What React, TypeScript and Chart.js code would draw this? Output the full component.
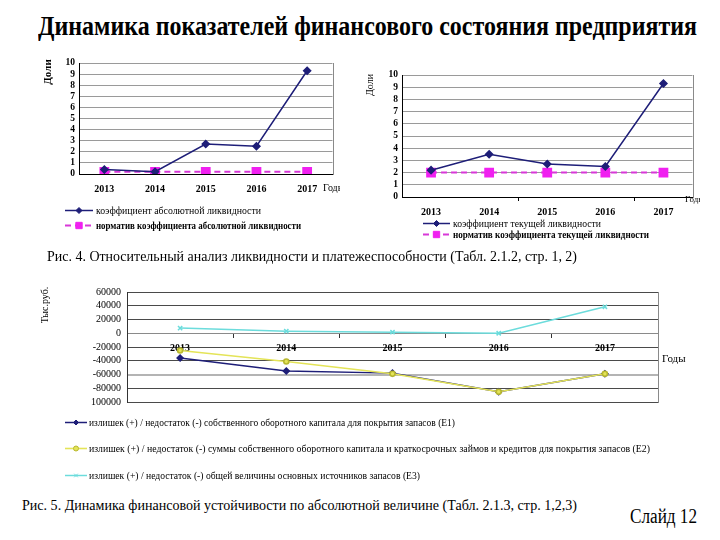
import React, { useEffect, useLayoutEffect, useRef } from "react";
import { Chart, registerables } from "chart.js";

Chart.register(...registerables);

// ---------- data ----------
const years = ["2013", "2014", "2015", "2016", "2017"];

const absLiquidity = [0.4, 0.2, 2.7, 2.5, 9.3];
const absLiquidityNorm = [0.2, 0.2, 0.2, 0.2, 0.2];
const curLiquidity = [2.2, 3.5, 2.7, 2.5, 9.3];
const curLiquidityNorm = [2, 2, 2, 2, 2];

const surplusE1 = [-36000, -55000, -58000, -85000, -59000];
const surplusE2 = [-25000, -41000, -59000, -85000, -59000];
const surplusE3 = [7500, 3000, 1500, 0, 38500];

const ratioTickLabels = ["0", "1", "2", "3", "4", "5", "6", "7", "8", "9", "10"];
const moneyTickLabels = ["100000", "-80000", "-60000", "-40000", "-20000", "0", "20000", "40000", "60000"];

const absLabels = ["коэффициент абсолютной ликвидности", "норматив коэффициента абсолютной ликвидности"];
const curLabels = ["коэффициент текущей ликвидности", "норматив коэффициента текущей ликвидности"];
const surplusLabels = [
  "излишек (+) / недостаток (-) собственного оборотного капитала для покрытия запасов (Е1)",
  "излишек (+) / недостаток (-) суммы собственного оборотного капитала и краткосрочных займов и кредитов для покрытия запасов (Е2)",
  "излишек (+) / недостаток (-) общей величины основных источников запасов (Е3)",
];

// ---------- styles ----------
const SERIF = '"Liberation Serif", "Times New Roman", serif';
const NAVY = "#1e1e78";
const MAGENTA_LINE = "#d838d8";
const MAGENTA = "#f020f0";
const YELLOW = "#e4e458";
const YELLOW_DARK = "#b8b830";
const CYAN = "#6cdcdc";

type LegendCfg = {
  x: number;
  ys: number[];
  len: number;
  gap: number;
  fonts: string[];
  widths: number[];
  markerR: number[];
};
type TextCfg = { text: string; x: number; y: number; font: string; rotate?: boolean; align?: CanvasTextAlign };
type DecorCfg = {
  border?: { right?: boolean; top?: boolean; bottom?: boolean; color: string };
  legend?: LegendCfg;
  texts?: TextCfg[];
};

function drawMarker(
  ctx: CanvasRenderingContext2D,
  style: string,
  x: number,
  y: number,
  r: number,
  fill: string,
  stroke: string
) {
  ctx.save();
  ctx.setLineDash([]);
  ctx.fillStyle = fill;
  ctx.strokeStyle = stroke;
  ctx.lineWidth = 1;
  ctx.beginPath();
  if (style === "rectRot") {
    ctx.moveTo(x, y - r);
    ctx.lineTo(x + r, y);
    ctx.lineTo(x, y + r);
    ctx.lineTo(x - r, y);
    ctx.closePath();
    ctx.fill();
    ctx.stroke();
  } else if (style === "rect") {
    const s = r * Math.SQRT1_2;
    ctx.rect(x - s, y - s, 2 * s, 2 * s);
    ctx.fill();
    ctx.stroke();
  } else if (style === "circle") {
    ctx.arc(x, y, r, 0, Math.PI * 2);
    ctx.fill();
    ctx.stroke();
  } else if (style === "crossRot") {
    const s = r * Math.SQRT1_2;
    ctx.moveTo(x - s, y - s);
    ctx.lineTo(x + s, y + s);
    ctx.moveTo(x - s, y + s);
    ctx.lineTo(x + s, y - s);
    ctx.stroke();
  }
  ctx.restore();
}

function makeDecor(cfg: DecorCfg) {
  return {
    id: "decor",
    afterDraw(chart: any) {
      const ctx: CanvasRenderingContext2D = chart.ctx;
      const ca = chart.chartArea;
      ctx.save();
      if (cfg.border) {
        ctx.strokeStyle = cfg.border.color;
        ctx.lineWidth = 1;
        ctx.beginPath();
        if (cfg.border.right) {
          ctx.moveTo(Math.round(ca.right) + 0.5, Math.round(ca.top));
          ctx.lineTo(Math.round(ca.right) + 0.5, Math.round(ca.bottom) + 1);
        }
        if (cfg.border.top) {
          ctx.moveTo(ca.left, Math.round(ca.top) + 0.5);
          ctx.lineTo(ca.right, Math.round(ca.top) + 0.5);
        }
        if (cfg.border.bottom) {
          ctx.moveTo(ca.left, Math.round(ca.bottom) + 0.5);
          ctx.lineTo(ca.right, Math.round(ca.bottom) + 0.5);
        }
        ctx.stroke();
      }
      if (cfg.legend) {
        const L = cfg.legend;
        chart.data.datasets.forEach((ds: any, i: number) => {
          const y = L.ys[i];
          ctx.save();
          ctx.strokeStyle = ds.borderColor;
          ctx.lineWidth = ds.borderWidth;
          ctx.setLineDash(ds.borderDash || []);
          ctx.beginPath();
          ctx.moveTo(L.x, y + 0.5);
          ctx.lineTo(L.x + L.len, y + 0.5);
          ctx.stroke();
          ctx.restore();
          drawMarker(
            ctx,
            ds.pointStyle,
            L.x + L.len / 2,
            y + 0.5,
            L.markerR[i],
            ds.pointBackgroundColor,
            ds.pointBorderColor
          );
          ctx.save();
          ctx.font = L.fonts[i];
          ctx.fillStyle = "#000";
          ctx.textBaseline = "middle";
          ctx.textAlign = "left";
          const w = ctx.measureText(ds.label).width;
          ctx.translate(L.x + L.len + L.gap, y + 1);
          ctx.scale(L.widths[i] / w, 1);
          ctx.fillText(ds.label, 0, 0);
          ctx.restore();
        });
      }
      (cfg.texts || []).forEach((t) => {
        ctx.save();
        ctx.font = t.font;
        ctx.fillStyle = "#000";
        ctx.textBaseline = "middle";
        ctx.textAlign = t.align || "left";
        ctx.translate(t.x, t.y);
        if (t.rotate) ctx.rotate(-Math.PI / 2);
        ctx.fillText(t.text, 0, 0);
        ctx.restore();
      });
      ctx.restore();
    },
  };
}

const baseOptions = {
  responsive: false,
  maintainAspectRatio: false,
  animation: false as const,
  devicePixelRatio: 1,
  events: [] as any[],
};

function ratioChart(
  canvas: HTMLCanvasElement,
  labels: string[],
  values: number[],
  norm: number[],
  opts: {
    pad: { top: number; right: number };
    yWidth: number;
    xHeight: number;
    tickMarks: number[];
    decor: DecorCfg;
  }
) {
  return new Chart(canvas, {
    type: "line",
    data: {
      labels: years,
      datasets: [
        {
          label: labels[0],
          data: values,
          borderColor: NAVY,
          borderWidth: 1.5,
          pointStyle: "rectRot",
          pointRadius: 3.5,
          pointBackgroundColor: NAVY,
          pointBorderColor: NAVY,
          tension: 0,
          order: 0,
        },
        {
          label: labels[1],
          data: norm,
          borderColor: MAGENTA_LINE,
          borderWidth: 2,
          borderDash: [6, 4],
          pointStyle: "rect",
          pointRadius: 5.5,
          pointBackgroundColor: MAGENTA,
          pointBorderColor: MAGENTA,
          tension: 0,
          order: 1,
        },
      ],
    },
    options: {
      ...baseOptions,
      layout: { padding: { left: 0, top: opts.pad.top, right: opts.pad.right, bottom: 0 } },
      plugins: { legend: { display: false }, tooltip: { enabled: false }, title: { display: false } },
      scales: {
        x: {
          offset: true,
          grid: {
            offset: true,
            drawOnChartArea: false,
            drawTicks: true,
            tickLength: 4,
            tickColor: (c: any) => (opts.tickMarks.includes(c.index) ? "#000" : "rgba(0,0,0,0)"),
          },
          border: { color: "#000", width: 1 },
          ticks: {
            color: "#000",
            font: { family: SERIF, size: 10, weight: "bold" },
            padding: 5,
            maxRotation: 0,
            autoSkip: false,
          },
          afterFit: (s: any) => {
            s.height = opts.xHeight;
          },
        },
        y: {
          min: 0,
          max: 10,
          ticks: {
            stepSize: 1,
            autoSkip: false,
            color: "#000",
            font: { family: SERIF, size: 9.5, weight: "bold" },
            padding: 4,
            callback: (_v: any, i: number) => ratioTickLabels[i],
          },
          grid: { color: "#9a9a9a", drawTicks: false },
          border: { color: "#000", width: 1 },
          afterFit: (s: any) => {
            s.width = opts.yWidth;
          },
        },
      },
    } as any,
    plugins: [makeDecor(opts.decor)],
  });
}

function buildChart1(canvas: HTMLCanvasElement) {
  return ratioChart(canvas, absLabels, absLiquidity, absLiquidityNorm, {
    pad: { top: 13, right: 2 },
    yWidth: 49,
    xHeight: 76,
    tickMarks: [],
    decor: {
      border: { right: true, color: "#8a8a8a" },
      legend: {
        x: 35,
        ys: [160, 175],
        len: 28,
        gap: 3,
        fonts: [`10px ${SERIF}`, `bold 10px ${SERIF}`],
        widths: [165, 205],
        markerR: [3, 4.5],
      },
      texts: [
        { text: "Доли", x: 18, y: 22, font: `bold 11px ${SERIF}`, rotate: true, align: "center" },
        { text: "Годы", x: 293, y: 138, font: `10px ${SERIF}` },
      ],
    },
  });
}

function buildChart2(canvas: HTMLCanvasElement) {
  return ratioChart(canvas, curLabels, curLiquidity, curLiquidityNorm, {
    pad: { top: 15, right: 3 },
    yWidth: 42,
    xHeight: 53,
    tickMarks: [2, 4],
    decor: {
      border: { right: true, color: "#8a8a8a" },
      legend: {
        x: 63,
        ys: [163, 174],
        len: 27,
        gap: 3,
        fonts: [`10px ${SERIF}`, `bold 10px ${SERIF}`],
        widths: [148, 196],
        markerR: [3, 4.5],
      },
      texts: [
        { text: "Доли", x: 10, y: 25, font: `10px ${SERIF}`, rotate: true, align: "center" },
        { text: "Годы", x: 325, y: 140, font: `9px ${SERIF}` },
      ],
    },
  });
}

function buildChart3(canvas: HTMLCanvasElement) {
  return new Chart(canvas, {
    type: "line",
    data: {
      labels: years,
      datasets: [
        {
          label: surplusLabels[0],
          data: surplusE1,
          borderColor: NAVY,
          borderWidth: 1.5,
          pointStyle: "rectRot",
          pointRadius: 3,
          pointBackgroundColor: NAVY,
          pointBorderColor: NAVY,
          tension: 0,
          order: 2,
        },
        {
          label: surplusLabels[1],
          data: surplusE2,
          borderColor: YELLOW,
          borderWidth: 1.6,
          pointStyle: "circle",
          pointRadius: 2.5,
          pointBackgroundColor: YELLOW,
          pointBorderColor: YELLOW_DARK,
          tension: 0,
          order: 1,
        },
        {
          label: surplusLabels[2],
          data: surplusE3,
          borderColor: CYAN,
          borderWidth: 1.5,
          pointStyle: "crossRot",
          pointRadius: 3,
          pointBackgroundColor: CYAN,
          pointBorderColor: CYAN,
          tension: 0,
          order: 0,
        },
      ],
    },
    options: {
      ...baseOptions,
      layout: { padding: { left: 0, top: 7, right: 52, bottom: 88 } },
      plugins: { legend: { display: false }, tooltip: { enabled: false }, title: { display: false } },
      scales: {
        x: {
          position: { y: 0 },
          offset: true,
          grid: {
            offset: true,
            drawOnChartArea: false,
            drawTicks: true,
            tickLength: 4,
            color: "#333",
          },
          border: { color: "#8a8a8a", width: 1 },
          ticks: {
            color: "#000",
            font: { family: SERIF, size: 10, weight: "bold" },
            padding: 5,
            maxRotation: 0,
            autoSkip: false,
          },
        },
        y: {
          min: -100000,
          max: 60000,
          ticks: {
            stepSize: 20000,
            autoSkip: false,
            color: "#000",
            font: { family: SERIF, size: 10 },
            padding: 6,
            callback: (_v: any, i: number) => moneyTickLabels[i],
          },
          grid: {
            drawTicks: false,
            color: (c: any) => {
              const v = c.tick && c.tick.value;
              if (v === 0) return "#9a9a9a";
              if (v === -60000) return "#b4b4b4";
              return "#4a4a4a";
            },
            lineWidth: (c: any) => (c.tick && c.tick.value === -60000 ? 2 : 1),
          },
          border: { color: "#333", width: 1 },
          afterFit: (s: any) => {
            s.width = 107;
          },
        },
      },
    } as any,
    plugins: [
      makeDecor({
        border: { right: true, color: "#8a8a8a" },
        legend: {
          x: 45,
          ys: [142, 168, 195],
          len: 22,
          gap: 2,
          fonts: [`10px ${SERIF}`, `10px ${SERIF}`, `10px ${SERIF}`],
          widths: [366, 561, 331],
          markerR: [2.5, 2.5, 2.5],
        },
        texts: [
          { text: "Тыс.руб.", x: 25, y: 25, font: `10px ${SERIF}`, rotate: true, align: "center" },
          { text: "Годы", x: 642, y: 79, font: `11px ${SERIF}` },
        ],
      }),
    ],
  });
}

function ChartBox(props: {
  left: number;
  top: number;
  width: number;
  height: number;
  build: (c: HTMLCanvasElement) => Chart;
}) {
  const ref = useRef<HTMLCanvasElement>(null);
  useEffect(() => {
    const chart = props.build(ref.current as HTMLCanvasElement);
    return () => chart.destroy();
  }, []);
  return (
    <canvas
      ref={ref}
      width={props.width}
      height={props.height}
      style={{ position: "absolute", left: props.left, top: props.top, width: props.width, height: props.height }}
    />
  );
}

function FitText(props: { text: string; left: number; centerY: number; width: number; size: number; weight?: string }) {
  const ref = useRef<HTMLSpanElement>(null);
  useLayoutEffect(() => {
    const el = ref.current;
    if (!el) return;
    el.style.transform = "none";
    const w = el.getBoundingClientRect().width;
    if (w > 0) el.style.transform = `scaleX(${props.width / w})`;
  }, [props.text, props.width, props.size]);
  return (
    <span
      ref={ref}
      style={{
        position: "absolute",
        left: props.left,
        top: props.centerY - props.size * 0.58,
        fontFamily: SERIF,
        fontSize: props.size,
        fontWeight: (props.weight || "normal") as any,
        lineHeight: 1,
        whiteSpace: "nowrap",
        transformOrigin: "0 0",
        color: "#000",
      }}
    >
      {props.text}
    </span>
  );
}

export default function App() {
  return (
    <div
      style={{
        position: "fixed",
        left: 0,
        top: 0,
        width: 720,
        height: 540,
        background: "#fff",
        overflow: "hidden",
      }}
    >
      <FitText
        text="Динамика показателей финансового состояния предприятия"
        left={38}
        centerY={28}
        width={659}
        size={28}
        weight="bold"
      />
      <ChartBox left={30} top={50} width={310} height={200} build={buildChart1} />
      <ChartBox left={360} top={60} width={340} height={190} build={buildChart2} />
      <FitText
        text="Рис. 4. Относительный анализ ликвидности и платежеспособности (Табл. 2.1.2, стр. 1, 2)"
        left={47}
        centerY={258}
        width={530}
        size={15}
      />
      <ChartBox left={20} top={280} width={690} height={210} build={buildChart3} />
      <FitText
        text="Рис. 5. Динамика финансовой устойчивости по абсолютной величине (Табл. 2.1.3, стр. 1,2,3)"
        left={22}
        centerY={507}
        width={555}
        size={15}
      />
      <FitText text="Слайд 12" left={630} centerY={518} width={67} size={20} />
    </div>
  );
}
